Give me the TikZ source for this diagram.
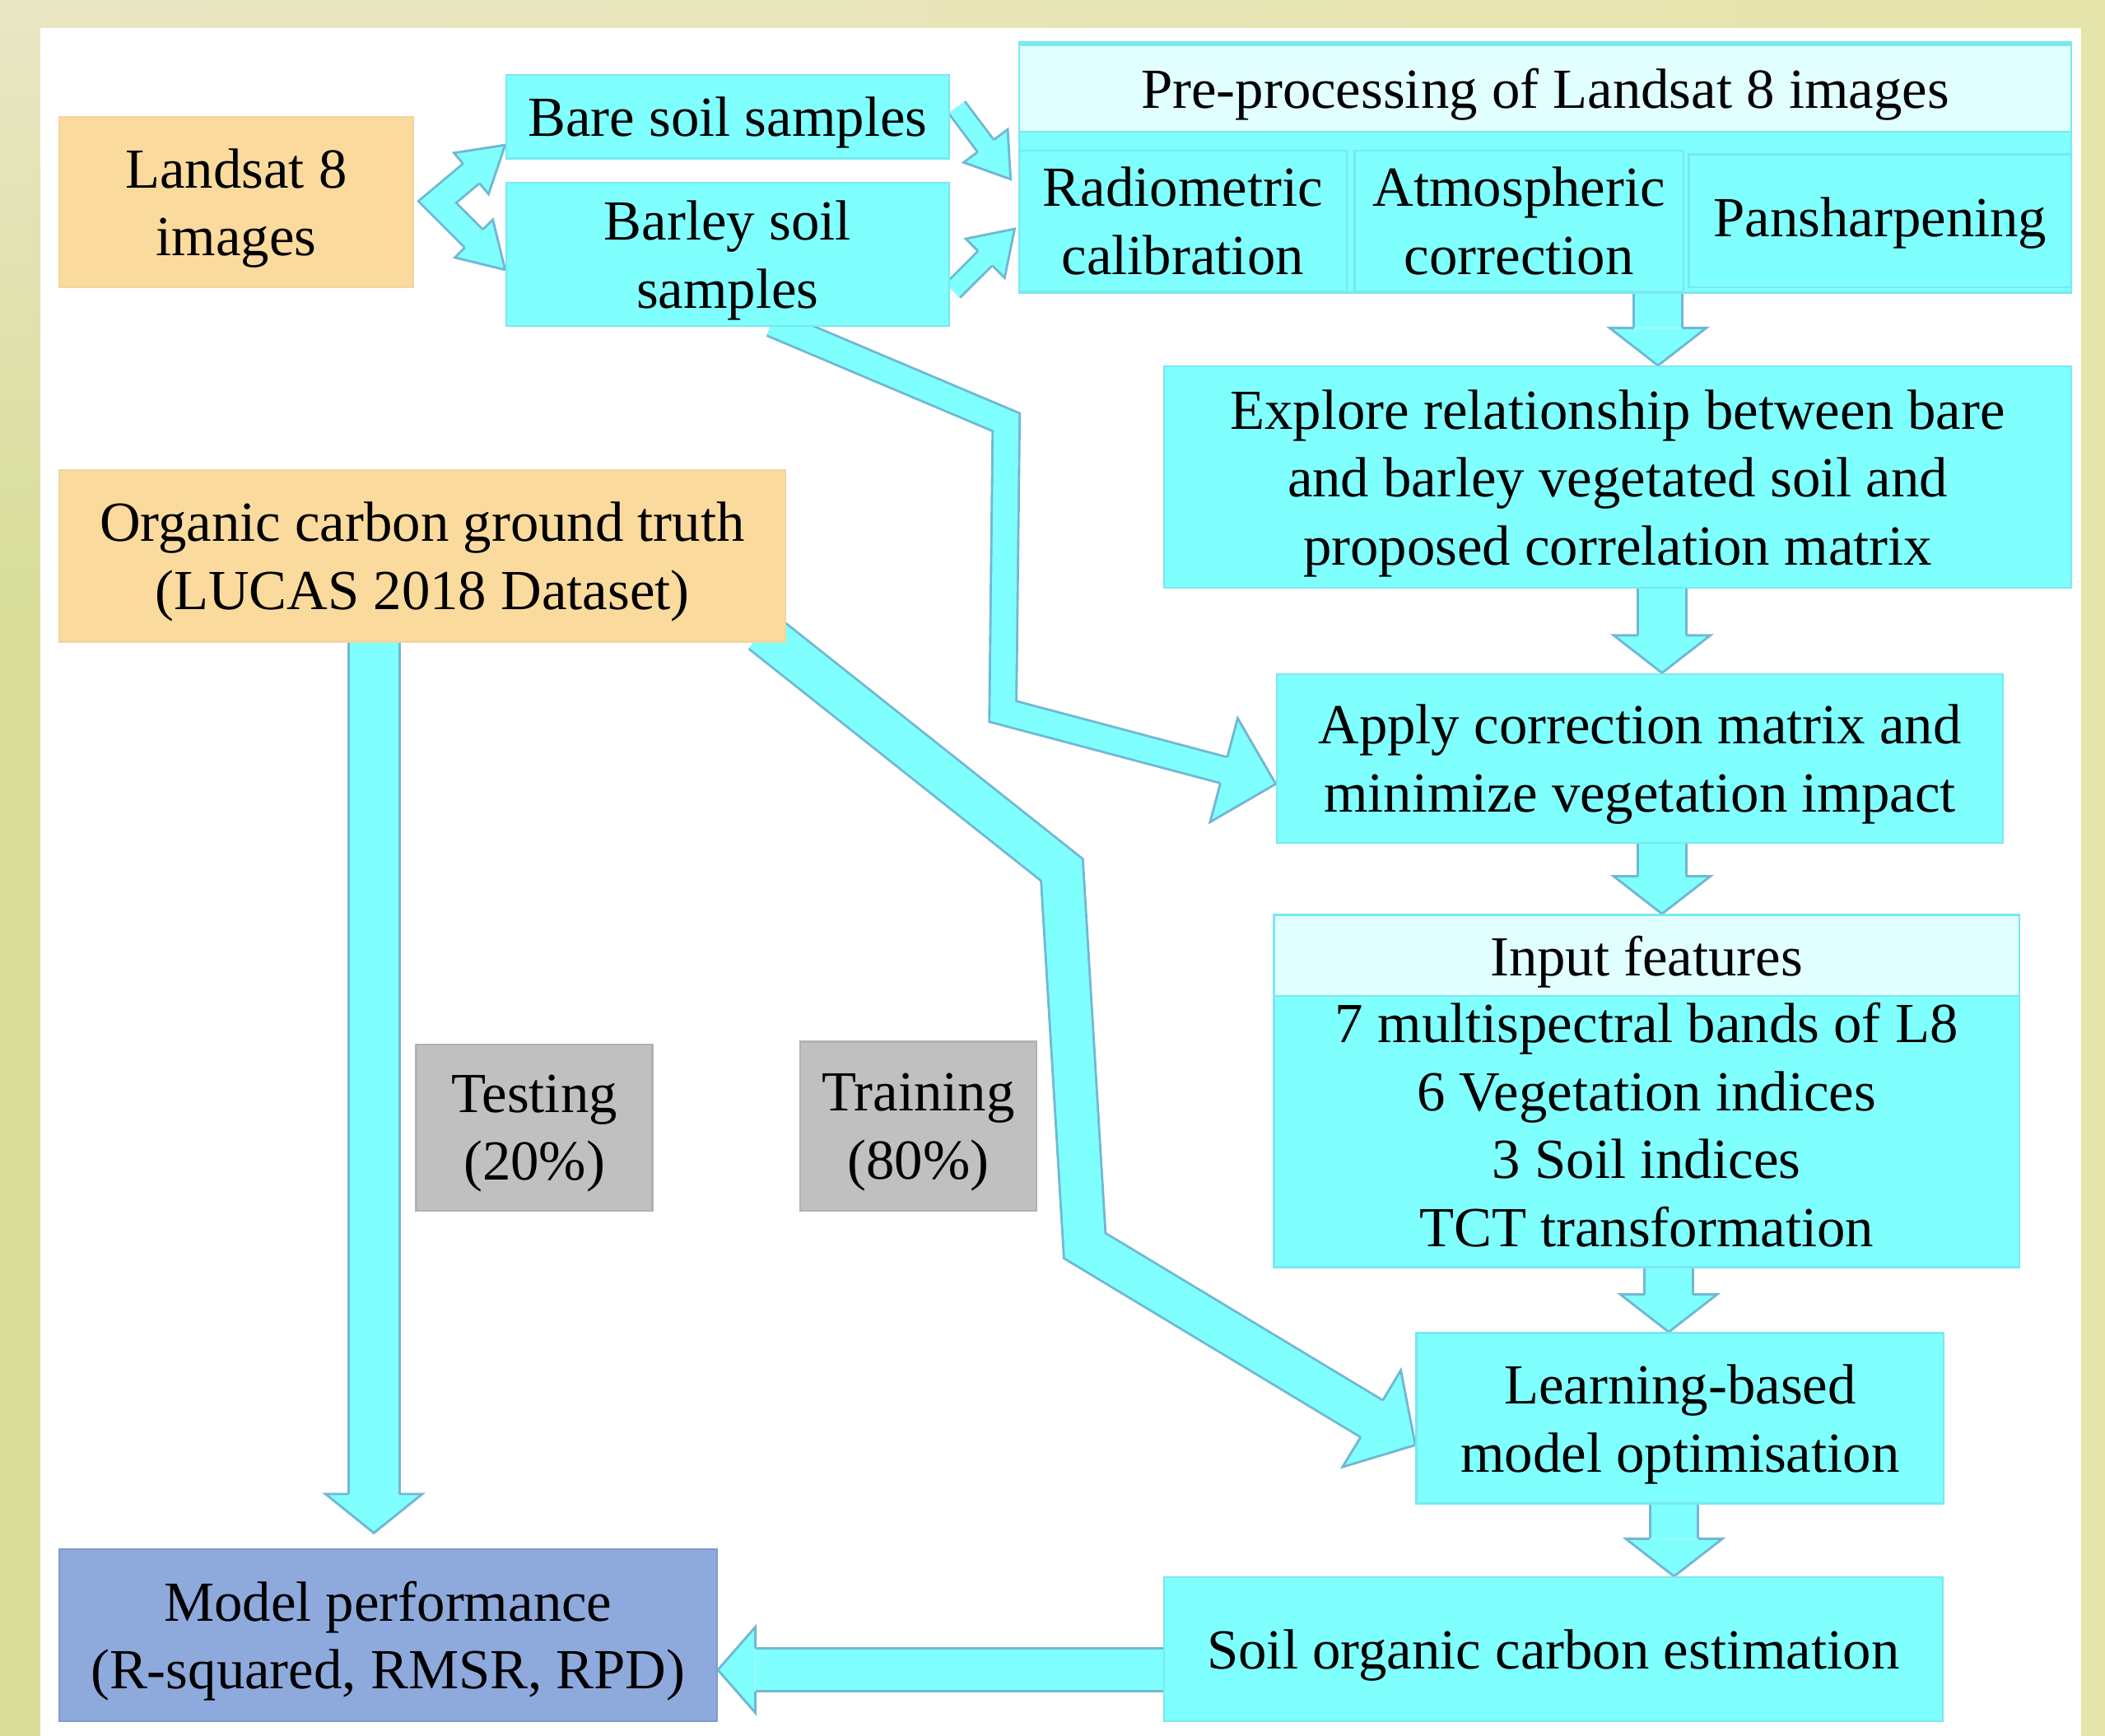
\documentclass[tikz,border=0pt]{standalone}
\usepackage{fontspec}
\setmainfont{Liberation Serif}
\usepackage{tikz}
\usetikzlibrary{calc}

\definecolor{flowcyan}{RGB}{128,255,255}
\definecolor{flowedge}{RGB}{112,184,212}
\definecolor{boxedge}{RGB}{120,232,242}
\definecolor{headfill}{RGB}{226,255,255}
\definecolor{sandfill}{RGB}{250,219,157}
\definecolor{sandedge}{RGB}{240,214,160}
\definecolor{greyfill}{RGB}{192,192,192}
\definecolor{greyedge}{RGB}{178,178,178}
\definecolor{perffill}{RGB}{142,169,219}
\definecolor{perfedge}{RGB}{130,155,205}
\definecolor{bgleft}{RGB}{216,222,154}
\definecolor{bgright}{RGB}{229,228,170}
\definecolor{bgtop}{RGB}{232,230,196}

\pgfdeclarelayer{back}
\pgfdeclarelayer{flows}
\pgfsetlayers{back,flows,main}

\tikzset{
  cyanbox/.style={draw=boxedge, line width=0.4pt, fill=flowcyan, inner sep=0pt, align=center, text depth=0pt},
  sandbox/.style={cyanbox, draw=sandedge, fill=sandfill},
  greybox/.style={cyanbox, draw=greyedge, fill=greyfill},
  perfbox/.style={cyanbox, draw=perfedge, fill=perffill},
  headbox/.style={cyanbox, fill=headfill},
  band/.style={draw=flowedge, line width=0.5pt, double=flowcyan, double distance=#1, line join=miter},
}

% head of a block arrow: base, tip, half shaft, half head
\newcommand{\arrowhead}[4]{%
  \fill[flowcyan] ($(#1)!#3!90:(#2)$) -- ($(#1)!#4!90:(#2)$) -- (#2)
    -- ($(#1)!#4!-90:(#2)$) -- ($(#1)!#3!-90:(#2)$) -- cycle;
  \draw[flowedge, line width=0.5pt, line join=miter] ($(#1)!#3!90:(#2)$) -- ($(#1)!#4!90:(#2)$) -- (#2)
    -- ($(#1)!#4!-90:(#2)$) -- ($(#1)!#3!-90:(#2)$);
}
% straight block arrow: half shaft, half head, head length, from, to
\newcommand{\flowarrow}[5]{%
  \coordinate (fs) at (#4);
  \coordinate (ft) at (#5);
  \coordinate (hb) at ($(ft)!#3!(fs)$);
  \pgfmathsetlengthmacro\bandw{2*#1-0.5pt}%
  \draw[band=\bandw] (fs) -- (hb);
  \arrowhead{hb}{ft}{#1}{#2}
}
% bent block arrow: half shaft, half head, head length, path, last bend, tip
\newcommand{\bentarrow}[6]{%
  \coordinate (ft) at (#6);
  \coordinate (hb) at ($(ft)!#3!(#5)$);
  \pgfmathsetlengthmacro\bandw{2*#1-0.5pt}%
  \draw[band=\bandw] #4 -- (hb);
  \arrowhead{hb}{ft}{#1}{#2}
}

\begin{document}
\begin{tikzpicture}[font=\fontsize{12}{14.4}\selectfont]
  \useasboundingbox (0,0) rectangle (15.68,-12.93);
  %--- Background
  \begin{pgfonlayer}{back}
    \shade[left color=bgleft, right color=bgright] (0,0) rectangle (15.68,-12.93);
    \shade[top color=bgtop, bottom color=bgleft] (0,0) rectangle (0.30,-4.5);
    \shade[left color=bgtop, right color=bgright] (0,0) rectangle (15.68,-0.21);
    \fill[white] (0.30,-0.21) rectangle (15.50,-12.93);
  \end{pgfonlayer}
  %--- Inputs
  \node[sandbox, minimum width=2.64cm, minimum height=1.27cm] (landsat) at (1.76,-1.505) {Landsat 8\\images};
  \node[cyanbox, minimum width=3.30cm, minimum height=0.62cm] (bare) at (5.42,-0.87) {Bare soil samples};
  \node[cyanbox, minimum width=3.30cm, minimum height=1.07cm] (barley) at (5.42,-1.895) {Barley soil\\samples};
  \node[sandbox, minimum width=5.41cm, minimum height=1.28cm] (organic) at (3.145,-4.14) {Organic carbon ground truth\\(LUCAS 2018 Dataset)};
  %--- Pre-processing
  \node[headbox, minimum width=7.84cm, minimum height=0.65cm] (prehead) at (11.51,-0.655) {Pre-processing of Landsat 8 images};
  \draw[boxedge, line width=1pt] (prehead.north west) -- (prehead.north east);
  \node[cyanbox, minimum width=7.84cm, minimum height=1.20cm] (prerow) at (11.51,-1.58) {};
  \node[cyanbox, minimum width=2.44cm, minimum height=1.05cm] (radio) at (8.81,-1.645) {Radiometric\\calibration};
  \node[cyanbox, minimum width=2.45cm, minimum height=1.05cm] (atmos) at (11.315,-1.645) {Atmospheric\\correction};
  \node[cyanbox, minimum width=2.85cm, minimum height=0.99cm, text depth=1.7pt] (pansharp) at (14.005,-1.645) {Pansharpening};
  %--- Processing chain
  \node[cyanbox, minimum width=6.76cm, minimum height=1.65cm] (explore) at (12.05,-3.555) {Explore relationship between bare\\and barley vegetated soil and\\proposed correlation matrix};
  \node[cyanbox, minimum width=5.41cm, minimum height=1.26cm] (apply) at (12.215,-5.65) {Apply correction matrix and\\minimize vegetation impact};
  \node[headbox, minimum width=5.55cm, minimum height=0.61cm] (inhead) at (12.265,-7.12) {Input features};
  \node[cyanbox, minimum width=5.55cm, minimum height=2.02cm, text depth=3pt] (inbody) at (12.265,-8.43) {7 multispectral bands of L8\\6 Vegetation indices\\3 Soil indices\\TCT transformation};
  \node[cyanbox, minimum width=3.93cm, minimum height=1.27cm] (learning) at (12.515,-10.565) {Learning-based\\model optimisation};
  \node[cyanbox, minimum width=5.80cm, minimum height=1.07cm] (soil) at (11.57,-12.285) {Soil organic carbon estimation};
  %--- Split and evaluation
  \node[greybox, minimum width=1.76cm, minimum height=1.24cm] (testing) at (3.98,-8.40) {Testing\\(20\%)};
  \node[greybox, minimum width=1.76cm, minimum height=1.26cm] (training) at (6.84,-8.39) {Training\\(80\%)};
  \node[perfbox, minimum width=4.90cm, minimum height=1.28cm] (perf) at (2.89,-12.18) {Model performance\\(R-squared, RMSR, RPD)};
  %--- Block arrows
  \begin{pgfonlayer}{flows}
    \coordinate (c1) at (12.35,0);
    \coordinate (c2) at (12.38,0);
    \coordinate (c3) at (12.43,0);
    \coordinate (c4) at (12.47,0);
    \coordinate (c5) at (2.785,-11.42);
    \coordinate (r1) at (0,-12.44);
    % Landsat to both sample sets
    \coordinate (fork) at ([xshift=0.17cm]landsat.east);
    \coordinate (ft1) at ([yshift=-0.21cm]bare.west);
    \coordinate (ft2) at ([yshift=-0.115cm]barley.west);
    \coordinate (hb1) at ($(ft1)!0.33cm!(fork)$);
    \coordinate (hb2) at ($(ft2)!0.33cm!(fork)$);
    \draw[band=4.9pt] (hb1) -- (fork) -- (hb2);
    \arrowhead{hb1}{ft1}{0.095cm}{0.2cm}
    \arrowhead{hb2}{ft2}{0.095cm}{0.2cm}
    % samples to pre-processing
    \flowarrow{0.075cm}{0.205cm}{0.31cm}{[shift={(0.05,0.07)}]bare.east}{[shift={(-0.055,0.31)}]radio.west}
    \flowarrow{0.075cm}{0.205cm}{0.31cm}{[shift={(0.02,-0.27)}]barley.east}{[shift={(-0.025,-0.06)}]radio.west}
    % right column
    \flowarrow{0.18cm}{0.36cm}{0.28cm}{prerow.south -| c1}{explore.north -| c1}
    \flowarrow{0.18cm}{0.36cm}{0.28cm}{explore.south -| c2}{apply.north -| c2}
    \flowarrow{0.18cm}{0.36cm}{0.28cm}{apply.south -| c2}{inhead.north -| c2}
    \flowarrow{0.18cm}{0.36cm}{0.28cm}{inbody.south -| c3}{learning.north -| c3}
    \flowarrow{0.18cm}{0.36cm}{0.28cm}{learning.south -| c4}{soil.north -| c4}
    % testing and results
    \flowarrow{0.19cm}{0.36cm}{0.29cm}{organic.south -| c5}{c5}
    \flowarrow{0.16cm}{0.32cm}{0.28cm}{soil.west |- r1}{perf.east |- r1}
    % barley samples to correction
    \coordinate (s1) at ($(barley.south)+(0.33,0.03)$);
    \coordinate (k1) at (7.495,-3.145);
    \coordinate (k2) at (7.47,-5.30);
    \bentarrow{0.10cm}{0.40cm}{0.40cm}{(s1) -- (k1) -- (k2)}{k2}{[yshift=-0.19cm]apply.west}
    % training data to learning
    \coordinate (s2) at ($(organic.south east)+(-0.18,0.08)$);
    \coordinate (k3) at (7.91,-6.48);
    \coordinate (k4) at (8.08,-9.28);
    \bentarrow{0.16cm}{0.42cm}{0.38cm}{(s2) -- (k3) -- (k4)}{k4}{[yshift=-0.2cm]learning.west}
  \end{pgfonlayer}
\end{tikzpicture}
\end{document}
